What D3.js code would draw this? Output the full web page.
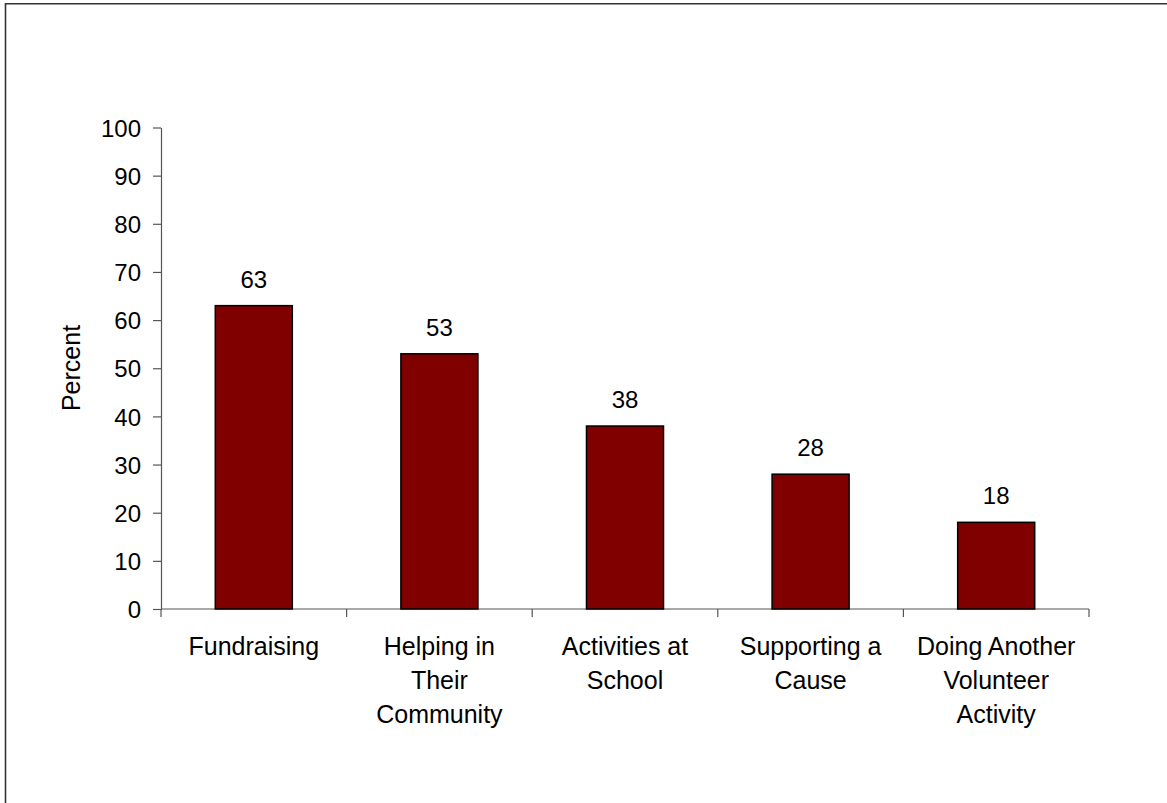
<!DOCTYPE html>
<html>
<head>
<meta charset="utf-8">
<script src="https://cdn.jsdelivr.net/npm/d3@7"></script>
<style>
  html, body { margin: 0; padding: 0; background: #fff; }
  svg { display: block; }
  text { font-family: "Liberation Sans", Arial, sans-serif; fill: #000; }
</style>
</head>
<body>
<svg id="chart" width="1167" height="803"></svg>
<script>
// Share of respondents by type of volunteer activity
const categories = [
  ["Fundraising"],
  ["Helping in", "Their", "Community"],
  ["Activities at", "School"],
  ["Supporting a", "Cause"],
  ["Doing Another", "Volunteer", "Activity"]
];
const values = [63, 53, 38, 28, 18];
const yTicks = [0, 10, 20, 30, 40, 50, 60, 70, 80, 90, 100];
const yTitle = "Percent";

const W = 1167, H = 803;
const plot = { left: 161, right: 1089, top: 127.5, bottom: 609 };
const numSize = 24;
const labelSize = 25;

const svg = d3.select("#chart");

// frame (top and left edges)
svg.append("path")
  .attr("d", `M5.5,${H} L5.5,3.8 L${W},3.8`)
  .attr("fill", "none")
  .attr("stroke", "#333")
  .attr("stroke-width", 1.6);

const keys = categories.map((c, i) => i);

// category slots (axis tick boundaries)
const xSlot = d3.scaleBand().domain(keys).range([plot.left, plot.right]).padding(0);
// bars inside the slots
const xBar = d3.scaleBand().domain(keys).range([plot.left, plot.right])
  .paddingInner(0.585).paddingOuter(0.2925);

const y = d3.scaleLinear().domain([0, 100]).range([plot.bottom, plot.top]);

// y axis
const yAxis = d3.axisLeft(y).tickValues(yTicks).tickSize(8).tickPadding(12).tickSizeOuter(0);
const gy = svg.append("g").attr("transform", `translate(${plot.left},0)`).call(yAxis);
gy.select(".domain").attr("stroke", "#555").attr("stroke-width", 1.2);
gy.selectAll(".tick line").attr("stroke", "#555").attr("stroke-width", 1.2);
gy.selectAll(".tick text")
  .style("font-family", '"Liberation Sans", Arial, sans-serif')
  .style("font-size", numSize + "px")
  .attr("fill", "#000")
  .attr("dy", "0.36em");

// x axis baseline with ticks at slot boundaries
const gx = svg.append("g").attr("transform", `translate(0,${plot.bottom})`);
gx.append("line")
  .attr("x1", plot.left).attr("x2", plot.right)
  .attr("stroke", "#555").attr("stroke-width", 1.2);
const bounds = keys.map(k => xSlot(k)).concat([xSlot(keys[keys.length - 1]) + xSlot.bandwidth()]);
gx.selectAll("line.tick").data(bounds).join("line")
  .attr("class", "tick")
  .attr("x1", d => d).attr("x2", d => d)
  .attr("y1", 0).attr("y2", 8)
  .attr("stroke", "#555").attr("stroke-width", 1.2);

// bars
svg.append("g").selectAll("rect").data(values).join("rect")
  .attr("x", (d, i) => xBar(i))
  .attr("width", xBar.bandwidth())
  .attr("y", d => y(d))
  .attr("height", d => y(0) - y(d))
  .attr("fill", "#800000")
  .attr("stroke", "#000")
  .attr("stroke-width", 1.5);

// value labels
svg.append("g").selectAll("text").data(values).join("text")
  .attr("x", (d, i) => xBar(i) + xBar.bandwidth() / 2)
  .attr("y", d => y(d) - 18)
  .attr("text-anchor", "middle")
  .style("font-size", numSize + "px")
  .text(d => d);

// category labels
const cat = svg.append("g").selectAll("text").data(categories).join("text")
  .attr("text-anchor", "middle")
  .style("font-size", labelSize + "px")
  .attr("transform", (d, i) => `translate(${xSlot(i) + xSlot.bandwidth() / 2},655)`);
cat.selectAll("tspan").data(d => d).join("tspan")
  .attr("x", 0)
  .attr("y", (d, j) => j * 34)
  .text(d => d);

// y axis title
svg.append("text")
  .attr("transform", `translate(80,368) rotate(-90)`)
  .attr("text-anchor", "middle")
  .style("font-size", labelSize + "px")
  .text(yTitle);
</script>
</body>
</html>
